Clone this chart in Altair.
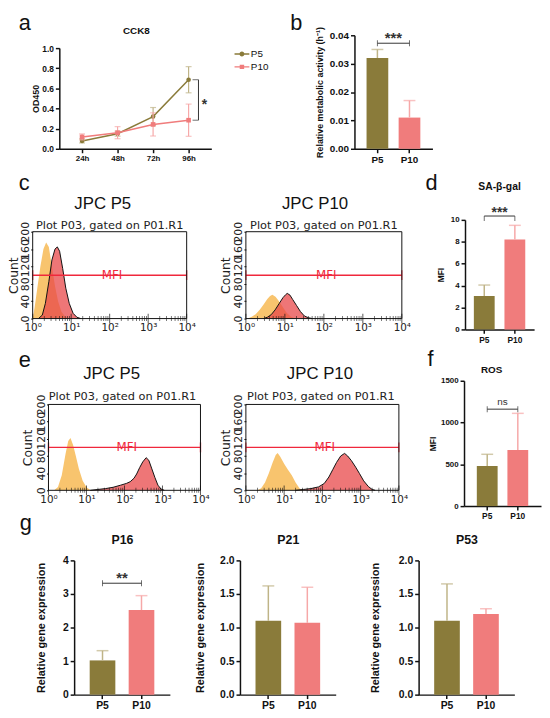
import altair as alt
import pandas as pd

# ---------------- values ----------------
TIMES = ["24h", "48h", "72h", "96h"]
SERIES = ["P5", "P10"]
CCK8_P5 = [0.078, 0.150, 0.320, 0.686]
CCK8_P5_SD = [0.020, 0.025, 0.090, 0.130]
CCK8_P10 = [0.118, 0.160, 0.242, 0.284]
CCK8_P10_SD = [0.030, 0.060, 0.115, 0.160]

GROUPS = ["P5", "P10"]
METAB = [0.032, 0.011]
METAB_SD = [0.003, 0.006]
SAGAL = [3.05, 8.2]
SAGAL_SD = [1.0, 1.3]
ROS = [480, 670]
ROS_SD = [140, 440]
P16 = [1.02, 2.52]
P16_SD = [0.29, 0.43]
P21 = [1.10, 1.07]
P21_SD = [0.52, 0.53]
P53 = [1.10, 1.20]
P53_SD = [0.55, 0.08]

# flow cytometry histograms: log10 fluorescence position, event count
C5_CTRL_LOG = [0.0, 0.05, 0.12, 0.20, 0.28, 0.35, 0.42, 0.50, 0.58, 0.66, 0.75, 0.85, 0.95]
C5_CTRL_CNT = [0, 25, 70, 120, 160, 175, 165, 120, 75, 40, 15, 4, 0]
C5_STAIN_LOG = [0.15, 0.25, 0.33, 0.42, 0.50, 0.58, 0.64, 0.70, 0.78, 0.86, 0.95, 1.05, 1.15, 1.25]
C5_STAIN_CNT = [0, 8, 35, 85, 135, 160, 165, 155, 115, 70, 35, 12, 3, 0]
C10_CTRL_LOG = [0.05, 0.15, 0.25, 0.35, 0.45, 0.55, 0.62, 0.68, 0.76, 0.85, 0.95, 1.05, 1.15, 1.25, 1.35]
C10_CTRL_CNT = [0, 4, 10, 20, 32, 45, 52, 55, 50, 40, 26, 13, 5, 1, 0]
C10_STAIN_LOG = [0.45, 0.55, 0.65, 0.75, 0.85, 0.95, 1.02, 1.06, 1.13, 1.20, 1.30, 1.40, 1.50, 1.60, 1.70]
C10_STAIN_CNT = [0, 3, 9, 20, 34, 48, 55, 58, 54, 44, 30, 16, 6, 2, 0]
E5_CTRL_LOG = [0.15, 0.25, 0.35, 0.45, 0.52, 0.58, 0.65, 0.72, 0.80, 0.90, 1.00, 1.10, 1.20]
E5_CTRL_CNT = [0, 8, 35, 85, 115, 122, 105, 80, 50, 22, 7, 1, 0]
E5_STAIN_LOG = [1.10, 1.30, 1.50, 1.70, 1.90, 2.05, 2.15, 2.25, 2.32, 2.40, 2.48, 2.57, 2.64, 2.72, 2.80, 2.88, 2.96, 3.05]
E5_STAIN_CNT = [0, 2, 4, 7, 12, 16, 20, 28, 38, 53, 66, 76, 70, 50, 30, 12, 3, 0]
E10_CTRL_LOG = [0.30, 0.40, 0.50, 0.60, 0.70, 0.78, 0.83, 0.90, 1.00, 1.10, 1.20, 1.30, 1.40, 1.48]
E10_CTRL_CNT = [0, 5, 18, 40, 65, 82, 87, 78, 62, 48, 35, 18, 5, 0]
E10_STAIN_LOG = [1.30, 1.50, 1.70, 1.90, 2.05, 2.17, 2.27, 2.37, 2.48, 2.58, 2.66, 2.76, 2.87, 2.97, 3.08, 3.20, 3.30, 3.38]
E10_STAIN_CNT = [0, 2, 4, 8, 16, 31, 48, 65, 80, 86, 80, 69, 54, 39, 22, 9, 2, 0]

GATE_RANGE = [1, 10000]
GATE_COUNT = 100
FLOW_X_DOMAIN = [1, 10000]
FLOW_Y_DOMAIN = [0, 200]
FLOW_Y_TICKS = [0, 40, 80, 120, 160, 200]
FLOW_X_MAJOR = [1, 10, 100, 1000, 10000]
FLOW_X_MINOR = [m * d for d in [1, 10, 100, 1000] for m in range(2, 10)]
SUBTITLE = "Plot P03, gated on P01.R1"

# ---------------- styles ----------------
OLIVE = "#867636"
SALMON = "#F07C7C"
OLIVE_ERR = "#BFB487"
SALMON_ERR = "#F6A8A8"
OLIVE_LINE = "#8A7B3A"
ORANGE = "#F8C46E"
RED = "#E8484A"
GATE = "#F0283C"
INK = "#111111"
GREY = "#333333"
AR = "Liberation Sans"
DJ = "DejaVu Sans"

PATH_P5 = "M-1.5,-0.14H1.5V0.14H-1.5Z M0.5,0A0.5,0.5,0,1,1,-0.5,0A0.5,0.5,0,1,1,0.5,0Z"
PATH_P10 = "M-1.5,-0.14H1.5V0.14H-1.5Z M-0.45,-0.45H0.45V0.45H-0.45Z"

# ---------------- page grid (cells of the figure) ----------------
COL_X = [8, 215, 420]
COL_W = [207, 205, 128]
ROW_Y = [8, 165, 338, 512]
ROW_H = [157, 173, 174, 200]


def label(txt, x, y, font=AR, size=10, weight="normal", align="center",
          baseline="middle", color=INK):
    return alt.Chart(pd.DataFrame({"t": [txt]})).mark_text(
        font=font, fontSize=size, fontWeight=weight, align=align,
        baseline=baseline, color=color
    ).encode(text="t:N", x=alt.value(x), y=alt.value(y))


def spacer(r, c):
    return alt.Chart(pd.DataFrame({"t": [""]})).mark_text().encode(
        text="t:N"
    ).properties(width=COL_W[c], height=ROW_H[r])


def gp_yaxis(values, fmt, title, title_x, lab, tsize, offset):
    return alt.Axis(
        values=values, format=fmt, title=title, grid=False, orient="left", offset=offset,
        domainColor=INK, domainWidth=1.5, tickColor=INK, tickWidth=1.5, tickSize=4,
        labelFont=AR, labelFontWeight="bold", labelFontSize=lab, labelColor=INK,
        labelPadding=2, labelFlush=False,
        titleFont=AR, titleFontWeight="bold", titleFontSize=tsize, titleColor=INK,
        titleX=title_x, titleBaseline="middle",
    )


def gp_xaxis(lab, offset):
    return alt.Axis(
        title=None, grid=False, labelAngle=0, orient="bottom", offset=offset,
        domainColor=INK, domainWidth=1.5, tickColor=INK, tickWidth=1.5, tickSize=4,
        labelFont=AR, labelFontWeight="bold", labelFontSize=lab, labelColor=INK,
        labelPadding=2,
    )


def bar_panel(rc, x0, x1, ytop, ybot, means, sds, ydom, yticks, yfmt, pin, pout,
              ytitle, title_dx, lab, tsize, xlab, capw,
              title=None, sig=None, let=None):
    r, c = rc
    ox, oy, w, h = COL_X[c], ROW_Y[r], COL_W[c], ROW_H[r]
    rx0, rx1, rtop, rbot = x0 - ox, x1 - ox, ytop - oy, ybot - oy
    df = pd.DataFrame({"g": GROUPS, "v": means,
                       "hi": [m + s for m, s in zip(means, sds)]})
    X = alt.X("g:N", scale=alt.Scale(domain=GROUPS, range=[rx0, rx1],
                                     paddingInner=pin, paddingOuter=pout),
              axis=gp_xaxis(xlab, rbot - h))
    ys = alt.Scale(domain=ydom, range=[rbot, rtop], nice=False)
    yax = gp_yaxis(yticks, yfmt, ytitle, title_dx, lab, tsize, -rx0)

    def Y(f):
        return alt.Y(f"{f}:Q", scale=ys, axis=yax)

    layers = [alt.Chart(df).mark_bar().encode(
        x=X, y=Y("v"),
        color=alt.Color("g:N", scale=alt.Scale(domain=GROUPS, range=[OLIVE, SALMON]), legend=None))]
    for g, col in zip(GROUPS, [OLIVE_ERR, SALMON_ERR]):
        sub = df[df.g == g]
        layers.append(alt.Chart(sub).mark_rule(color=col, strokeWidth=1.5).encode(
            x=X, y=Y("v"), y2="hi:Q"))
        layers.append(alt.Chart(sub).mark_tick(color=col, size=capw, thickness=1.5).encode(
            x=X, y=Y("hi")))
    if sig:
        level, txt, legs_down, fsize, weight, dy = sig
        step = (rx1 - rx0) / (2 - pin + 2 * pout)
        bd = pd.DataFrame({"g": GROUPS, "v": [level, level]})
        layers.append(alt.Chart(bd).mark_line(color=GREY, strokeWidth=1).encode(x=X, y=Y("v")))
        if legs_down:
            layers.append(alt.Chart(bd).mark_tick(color=GREY, orient="vertical", size=5,
                                                  thickness=1, yOffset=2.5).encode(x=X, y=Y("v")))
        else:
            layers.append(alt.Chart(bd).mark_tick(color=GREY, orient="vertical", size=6,
                                                  thickness=1).encode(x=X, y=Y("v")))
        td = pd.DataFrame({"g": ["P5"], "v": [level], "t": [txt]})
        layers.append(alt.Chart(td).mark_text(
            dx=step / 2, dy=dy, baseline="alphabetic", font=AR, fontSize=fsize,
            fontWeight=weight, color=GREY).encode(x=X, y=Y("v"), text="t:N"))
    if title:
        txt, tx, ty, tsz = title
        layers.append(label(txt, tx - ox, ty - oy, size=tsz, weight="bold"))
    if let:
        ch, lx, ly = let
        layers.append(label(ch, lx - ox, ly - oy, size=22, align="left", baseline="alphabetic"))
    return alt.layer(*layers).properties(width=w, height=h)


def flow_panel(rc, x0, x1, y0, y1, title, tpos, spos, ctrl_log, ctrl_cnt, st_log, st_cnt,
               count_x, let=None):
    r, c = rc
    ox, oy, w, h = COL_X[c], ROW_Y[r], COL_W[c], ROW_H[r]
    rx0, rx1, ry0, ry1 = x0 - ox, x1 - ox, y0 - oy, y1 - oy
    ctrl = pd.DataFrame({"fl": [10 ** v for v in ctrl_log], "count": ctrl_cnt})
    st = pd.DataFrame({"fl": [10 ** v for v in st_log], "count": st_cnt})
    gate = pd.DataFrame({"fl": [GATE_RANGE[0]], "fl2": [GATE_RANGE[1]], "count": [GATE_COUNT]})
    caps = pd.DataFrame({"fl": GATE_RANGE, "count": [GATE_COUNT] * 2})
    lab = pd.DataFrame({"fl": [(GATE_RANGE[0] * GATE_RANGE[1]) ** 0.5 * 1.15],
                        "count": [GATE_COUNT], "t": ["MFI"]})
    frame = pd.DataFrame({"fl": [FLOW_X_DOMAIN[0]], "fl2": [FLOW_X_DOMAIN[1]],
                          "count": [FLOW_Y_DOMAIN[0]], "count2": [FLOW_Y_DOMAIN[1]]})
    major = pd.DataFrame({"fl": FLOW_X_MAJOR, "count": [FLOW_Y_DOMAIN[0]] * len(FLOW_X_MAJOR)})
    minor = pd.DataFrame({"fl": FLOW_X_MINOR, "count": [FLOW_Y_DOMAIN[0]] * len(FLOW_X_MINOR)})
    xs = alt.Scale(type="log", domain=FLOW_X_DOMAIN, range=[rx0, rx1], nice=False)
    ys = alt.Scale(domain=FLOW_Y_DOMAIN, range=[ry1, ry0], nice=False)
    label_expr = ("datum.value == 1 ? '10⁰' : datum.value == 10 ? '10¹' : "
                  "datum.value == 100 ? '10²' : datum.value == 1000 ? '10³' : "
                  "datum.value == 10000 ? '10⁴' : ''")
    xax = alt.Axis(
        values=FLOW_X_MAJOR, labelExpr=label_expr, title=None,
        orient="bottom", offset=ry1 - h,
        domain=False, grid=False, ticks=False,
        labelFont=DJ, labelFontSize=10.5, labelColor="#222", labelPadding=4,
        labelFlush=False, labelOverlap=False,
    )
    yax = alt.Axis(
        values=FLOW_Y_TICKS, title="Count", domain=False, grid=False,
        orient="left", offset=-rx0,
        tickColor=INK, tickSize=2, labelAngle=270, labelAlign="center",
        labelBaseline="bottom", labelFont=DJ, labelFontSize=11, labelColor="#222",
        labelPadding=0, labelFlush=False, labelOverlap=False,
        titleFont=DJ, titleFontSize=12.5, titleFontWeight="normal", titleColor="#222",
        titleX=count_x, titleBaseline="middle",
    )
    X = alt.X("fl:Q", scale=xs, axis=xax)
    Y = alt.Y("count:Q", scale=ys, axis=yax)
    layers = [
        alt.Chart(ctrl).mark_area(color=ORANGE).encode(x=X, y=Y),
        alt.Chart(st).mark_area(color=RED, opacity=0.75).encode(x=X, y=Y),
        alt.Chart(st).mark_line(color=INK, strokeWidth=1).encode(x=X, y=Y),
        alt.Chart(gate).mark_rule(color=GATE, strokeWidth=1.5).encode(x=X, x2="fl2:Q", y=Y),
        alt.Chart(caps).mark_tick(color=GATE, orient="vertical", size=10, thickness=1.5).encode(x=X, y=Y),
        alt.Chart(lab).mark_text(color=GATE, font=DJ, fontSize=12).encode(x=X, y=Y, text="t:N"),
        alt.Chart(major).mark_tick(color=INK, orient="vertical", size=10, thickness=1).encode(x=X, y=Y),
        alt.Chart(minor).mark_tick(color=INK, orient="vertical", size=5, thickness=0.8).encode(x=X, y=Y),
        alt.Chart(frame).mark_rect(filled=False, stroke=INK, strokeWidth=1).encode(
            x=X, x2="fl2:Q", y=Y, y2="count2:Q"),
        label(title, tpos[0] - ox, tpos[1] - oy, size=17),
        label(SUBTITLE, spos[0] - ox, spos[1] - oy, font=DJ, size=11.5, color="#222"),
    ]
    if let:
        ch, lx, ly = let
        layers.append(label(ch, lx - ox, ly - oy, size=22, align="left", baseline="alphabetic"))
    return alt.layer(*layers).properties(width=w, height=h)


# ---------------- panel a: CCK8 ----------------
oxA, oyA, wA, hA = COL_X[0], ROW_Y[0], COL_W[0], ROW_H[0]
a_df = pd.DataFrame({
    "t": TIMES * 2,
    "series": ["P5"] * 4 + ["P10"] * 4,
    "v": CCK8_P5 + CCK8_P10,
    "sd": CCK8_P5_SD + CCK8_P10_SD,
})
a_df["lo"] = a_df.v - a_df.sd
a_df["hi"] = a_df.v + a_df.sd

XA = alt.X("t:N", scale=alt.Scale(type="point", domain=TIMES, padding=0.64,
                                  range=[59 - oxA, 213 - oxA]),
           axis=gp_xaxis(8, (144 - oyA) - hA))
ysA = alt.Scale(domain=[0, 1], range=[144 - oyA, 42 - oyA], nice=False)
yaxA = gp_yaxis([0, 0.2, 0.4, 0.6, 0.8, 1.0], ".1f", "OD450", -24, 8.5, 9, -(59 - oxA))


def YA(f):
    return alt.Y(f"{f}:Q", scale=ysA, axis=yaxA)


a_layers = []
for s, lc, ec, shp in [("P5", OLIVE_LINE, OLIVE_ERR, "circle"), ("P10", SALMON, SALMON_ERR, "square")]:
    sub = a_df[a_df.series == s]
    a_layers += [
        alt.Chart(sub).mark_rule(color=ec, strokeWidth=1.2).encode(x=XA, y=YA("lo"), y2="hi:Q"),
        alt.Chart(sub).mark_tick(color=ec, size=6, thickness=1.2).encode(x=XA, y=YA("lo")),
        alt.Chart(sub).mark_tick(color=ec, size=6, thickness=1.2).encode(x=XA, y=YA("hi")),
        alt.Chart(sub).mark_line(color=lc, strokeWidth=1.5).encode(x=XA, y=YA("v")),
        alt.Chart(sub).mark_point(color=lc, filled=True, shape=shp, size=22, opacity=1).encode(x=XA, y=YA("v")),
    ]

leg_kw = dict(orient="none", legendX=239 - oxA, legendY=43 - oyA, title=None, labelFont=AR,
              labelFontSize=10, labelColor=INK, symbolSize=100, symbolStrokeWidth=0,
              rowPadding=3, labelOffset=4, padding=0)
leg_df = pd.DataFrame({"series": SERIES, "t": ["24h", "24h"], "v": [0, 0]})
a_layers.append(
    alt.Chart(leg_df).transform_filter("false").mark_point(filled=True, opacity=1).encode(
        x=XA, y=YA("v"),
        color=alt.Color("series:N", scale=alt.Scale(domain=SERIES, range=[OLIVE_LINE, SALMON]),
                        legend=alt.Legend(**leg_kw)),
        shape=alt.Shape("series:N", scale=alt.Scale(domain=SERIES, range=[PATH_P5, PATH_P10]),
                        legend=alt.Legend(**leg_kw)),
    )
)
sigA = pd.DataFrame({"t": ["96h"], "y1": [CCK8_P5[3]], "y2": [CCK8_P10[3]],
                     "s": [0.40], "lab": ["*"]})
a_layers += [
    alt.Chart(sigA).mark_rule(color=GREY, strokeWidth=1, xOffset=10).encode(x=XA, y=YA("y1"), y2="y2:Q"),
    alt.Chart(sigA).mark_tick(color=GREY, size=6, thickness=1, xOffset=7).encode(x=XA, y=YA("y1")),
    alt.Chart(sigA).mark_tick(color=GREY, size=6, thickness=1, xOffset=7).encode(x=XA, y=YA("y2")),
    alt.Chart(sigA).mark_text(dx=16, baseline="alphabetic", font=AR, fontSize=14, fontWeight="bold",
                              color=GREY).encode(x=XA, y=YA("s"), text="lab:N"),
    label("CCK8", 137 - oxA, 25 - oyA, size=10, weight="bold"),
    label("a", 18 - oxA, 24 - oyA, size=22, align="left", baseline="alphabetic"),
]
panel_a = alt.layer(*a_layers).properties(width=wA, height=hA)

# ---------------- panel b ----------------
panel_b = bar_panel((0, 1), 358, 437, 29, 144, METAB, METAB_SD, [0, 0.04],
                    [0, 0.01, 0.02, 0.03, 0.04], ".2f", 0.323, 0.377,
                    "Relative metabolic activity (h⁻¹)", -35, 10, 9, 10, 12,
                    sig=(0.0372, "***", False, 15, "bold", 0), let=("b", 293, 24))

# ---------------- row 2 ----------------
c5 = flow_panel((1, 0), 32, 188, 228, 316, "JPC P5", (103, 200), (110, 222),
                C5_CTRL_LOG, C5_CTRL_CNT, C5_STAIN_LOG, C5_STAIN_CNT, -19, let=("c", 18, 186))
c10 = flow_panel((1, 1), 248, 406, 228, 316, "JPC P10", (318, 200), (327, 222),
                 C10_CTRL_LOG, C10_CTRL_CNT, C10_STAIN_LOG, C10_STAIN_CNT, -21)
panel_d = bar_panel((1, 2), 470, 540, 216, 327, SAGAL, SAGAL_SD, [0, 10],
                    [0, 2, 4, 6, 8, 10], "d", 0.32, 0.289,
                    "MFI", -25, 8, 8.5, 8.5, 12,
                    title=("SA-β-gal", 505, 183, 10.5),
                    sig=(10.35, "***", True, 14, "bold", 1), let=("d", 430, 186))

# ---------------- row 3 ----------------
e5 = flow_panel((2, 0), 48, 202, 403, 490, "JPC P5", (112, 372), (123, 396),
                E5_CTRL_LOG, E5_CTRL_CNT, E5_STAIN_LOG, E5_STAIN_CNT, -21, let=("e", 18, 365))
e10 = flow_panel((2, 1), 248, 403, 403, 490, "JPC P10", (323, 372), (324, 396),
                 E10_CTRL_LOG, E10_CTRL_CNT, E10_STAIN_LOG, E10_STAIN_CNT, -21)
panel_f = bar_panel((2, 2), 469, 547, 379, 506, ROS, ROS_SD, [0, 1500],
                    [0, 500, 1000, 1500], "d", 0.32, 0.418,
                    "MFI", -32, 8, 8.5, 8.5, 12,
                    title=("ROS", 497, 368, 10),
                    sig=(1160, "ns", False, 10, "normal", -4), let=("f", 432, 364))

# ---------------- row 4 ----------------
GENE_T = "Relative gene expression"
p16 = bar_panel((3, 0), 74, 171, 561, 697, P16, P16_SD, [0, 4], [0, 1, 2, 3, 4], "d",
                0.342, 0.399, GENE_T, -33, 10.5, 11, 10.5, 12,
                title=("P16", 123, 540, 12.5),
                sig=(3.32, "**", False, 15, "bold", 0), let=("g", 19, 530))
p21 = bar_panel((3, 1), 242, 339, 561, 697, P21, P21_SD, [0, 2], [0, 0.5, 1.0, 1.5, 2.0], ".1f",
                0.342, 0.399, GENE_T, -40, 10.5, 11, 10.5, 12,
                title=("P21", 291, 540, 12.5))
p53 = bar_panel((3, 2), 423, 520, 561, 697, P53, P53_SD, [0, 2], [0, 0.5, 1.0, 1.5, 2.0], ".1f",
                0.342, 0.399, GENE_T, -44, 10.5, 11, 10.5, 12,
                title=("P53", 472, 540, 12.5))

cells = [
    panel_a, panel_b, spacer(0, 2),
    c5, c10, panel_d,
    e5, e10, panel_f,
    p16, p21, p53,
]

chart = alt.concat(
    *cells, columns=3, spacing=0, bounds="flush", align="each",
).properties(
    padding={"left": 0, "top": 0, "right": 0, "bottom": 0},
    background="white",
).configure_view(stroke="transparent", strokeWidth=0)

chart.save("out.html", embed_options={"renderer": "svg", "actions": False})
